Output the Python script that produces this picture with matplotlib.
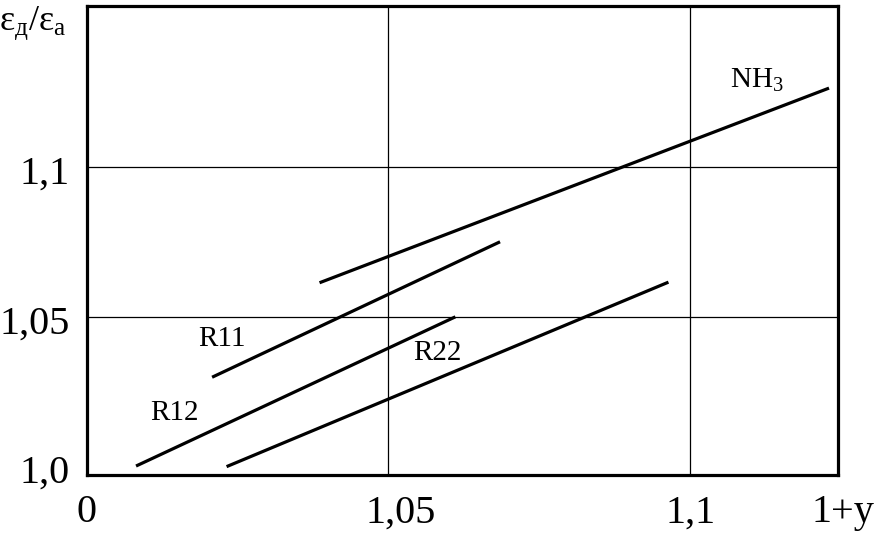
import matplotlib
matplotlib.use("Agg")
import matplotlib.pyplot as plt
import matplotlib.transforms as mtransforms

plt.rcParams['font.family'] = ['Liberation Serif', 'DejaVu Serif']
plt.rcParams['mathtext.fontset'] = 'custom'
plt.rcParams['mathtext.rm'] = 'Liberation Serif'
plt.rcParams['mathtext.it'] = 'Liberation Serif'

# line end points (x = 1+y, y = eps_d/eps_a)
nh3_x = [1.0386, 1.1230]
nh3_y = [1.0613, 1.1264]
r11_x = [1.0208, 1.0685]
r11_y = [1.0297, 1.0750]
r12_x = [1.0082, 1.0611]
r12_y = [1.0000, 1.0499]
r22_x = [1.0232, 1.0964]
r22_y = [0.9998, 1.0615]

x_ticks = [1.0, 1.05, 1.1]
x_labels = ['0', '1,05', '1,1']
y_ticks = [1.0, 1.05, 1.1]
y_labels = ['1,0', '1,05', '1,1']

fig = plt.figure(figsize=(8.75, 5.36), dpi=100)
ax = fig.add_axes([0.0989, 0.1138, 0.8589, 0.8741])

for xs, ys in [(nh3_x, nh3_y), (r11_x, r11_y), (r12_x, r12_y), (r22_x, r22_y)]:
    ax.plot(xs, ys, color='black', linewidth=2.3, solid_capstyle='butt')

# grid only at the inner values
for v in x_ticks[1:]:
    ax.axvline(v, color='black', linewidth=0.9, zorder=0)
for v in y_ticks[1:]:
    ax.axhline(v, color='black', linewidth=0.9, zorder=0)

ax.set_xlim(1.0, 1.1245)
ax.set_ylim(0.997, 1.1537)

ax.set_xticks(x_ticks)
ax.set_xticklabels(x_labels, fontsize=29)
ax.set_yticks(y_ticks)
ax.set_yticklabels(y_labels, fontsize=29)
ax.tick_params(axis='both', length=0)
ax.tick_params(axis='x', pad=14)
ax.tick_params(axis='y', pad=12)

# small shifts of the tick labels like in the original
down = mtransforms.ScaledTranslation(0, -3 / 100, fig.dpi_scale_trans)
for lab in ax.get_yticklabels():
    lab.set_transform(lab.get_transform() + down)
right = mtransforms.ScaledTranslation(12 / 100, 0, fig.dpi_scale_trans)
lab = ax.get_xticklabels()[1]
lab.set_transform(lab.get_transform() + right)

for s in ax.spines.values():
    s.set_linewidth(2.3)

ax.text(1.0066, -0.079, '1+y', transform=ax.transAxes, fontsize=29,
        ha='center', va='center')

ax.text(1.0225, 1.0425, 'R11', fontsize=21, ha='center', va='center')
ax.text(1.0145, 1.0177, 'R12', fontsize=21, ha='center', va='center')
ax.text(1.0582, 1.0378, 'R22', fontsize=21, ha='center', va='center')
ax.text(1.1111, 1.1291, r'NH$_{\mathrm{3}}$', fontsize=21, ha='center', va='center')

fig.text(33 / 875, 1 - 24 / 536, r'$\mathrm{ε}_{\mathrm{д}}/\mathrm{ε}_{\mathrm{а}}$',
         fontsize=26, ha='center', va='center')

fig.savefig('out.png', dpi=100)
